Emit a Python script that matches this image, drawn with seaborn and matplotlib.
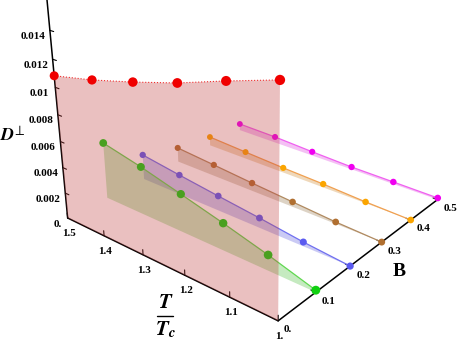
import matplotlib
matplotlib.use("Agg")
import matplotlib.pyplot as plt
import seaborn as sns
from matplotlib.lines import Line2D
from mpl_toolkits.mplot3d import proj3d
from mpl_toolkits.mplot3d.art3d import Poly3DCollection

T_vals = [1.5, 1.4, 1.3, 1.2, 1.1, 1.0]
D_00 = [0.01083, 0.01150, 0.01233, 0.01325, 0.01435, 0.01538]
D_01 = [0.00447, 0.00378, 0.00295, 0.00210, 0.00118, 0.00015]
D_02 = [0.00205, 0.00160, 0.00118, 0.00078, 0.00033, 0.00000]
D_03 = [0.00120, 0.00093, 0.00065, 0.00040, 0.00015, 0.00000]
D_04 = [0.00075, 0.00057, 0.00040, 0.00028, 0.00010, 0.00000]
D_05 = [0.00057, 0.00050, 0.00033, 0.00020, 0.00017, 0.00013]
series = [D_05, D_04, D_03, D_02, D_01, D_00]
series_B = [0.5, 0.4, 0.3, 0.2, 0.1, 0.0]

D_ticks = [0.002, 0.004, 0.006, 0.008, 0.01, 0.012, 0.014]
D_labels = ["0.002", "0.004", "0.006", "0.008", "0.01", "0.012", "0.014"]
T_ticks = [1.5, 1.4, 1.3, 1.2, 1.1, 1.0]
T_labels = ["1.5", "1.4", "1.3", "1.2", "1.1", "1."]
B_ticks = [0.1, 0.2, 0.3, 0.4, 0.5]
B_labels = ["0.1", "0.2", "0.3", "0.4", "0.5"]

W, H = 459, 341

sns.set_theme(style="white", font="Liberation Serif")
plt.rcParams["mathtext.fontset"] = "stix"
marker_cols = sns.color_palette(["#f000f0", "#fba500", "#b06f30", "#5a5af0", "#10d010", "#f00000"])
fill_cols = sns.color_palette(["#e040e0", "#d08a30", "#9a7a50", "#6060e0", "#50c040", "#c04040"])
line_cols = sns.color_palette(["#f060f0", "#f0a050", "#b08a60", "#7070f0", "#60d850", "#f03030"])

fig = plt.figure(figsize=(W / 100, H / 100), dpi=100)
ax = fig.add_subplot(projection="3d", computed_zorder=False)
ax.view_init(elev=23.745, azim=-50.4458, roll=0.2091)
ax.set_proj_type("persp", focal_length=0.4014)
ax.set_box_aspect((1.0061, 1, 0.8502))
side = 441.08
ax.set_position([(249.31 - side / 2) / W, (228.32 - side / 2) / H, side / W, side / H])
ax.set_xlim(1.5, 1.0, view_margin=0)
ax.set_ylim(0, 0.5, view_margin=0)
ax.set_zlim(0, 0.016, view_margin=0)
ax.set_axis_off()
ax.apply_aspect()
M = ax.get_proj()


def label(t, b, d, s, dx, dy):
    # 2d annotation at the projected spot, offset in pixels
    x, y, _ = proj3d.proj_transform(t, b, d, M)
    ax.annotate(s, xy=(x, y), xycoords="data", xytext=(dx, dy), textcoords="offset pixels",
                ha="center", va="center", fontsize=8, fontweight="bold", color="black",
                annotation_clip=False, zorder=40)


ax.plot([1.5, 1.0], [0, 0], [0, 0], color="black", lw=1.1, zorder=1)
ax.plot([1.0, 1.0], [0, 0.5], [0, 0], color="black", lw=1.1, zorder=1)
ax.plot([1.5, 1.5], [0, 0], [0, 0.0165], color="black", lw=1.1, zorder=1)

for d, lab in zip(D_ticks, D_labels):
    ax.plot([1.5, 1.49], [0, 0], [d, d], color="black", lw=0.8, zorder=1)
    label(1.5, 0, d, lab, -17 if len(lab) == 5 else -16, -6)
label(1.5, 0, 0, "0.", -10, -7)

for t, lab in zip(T_ticks, T_labels):
    ax.plot([t, t], [0, 0], [0, 0.0004], color="black", lw=0.8, zorder=1)
    label(t, 0, 0, lab, 1, -15.5)

for b, lab in zip(B_ticks, B_labels):
    ax.plot([1.0, 1.01], [b, b], [0, 0], color="black", lw=0.8, zorder=1)
    label(1.0, b, 0, lab, 13, -9)
label(1.0, 0, 0, "0.", 10, -9)

marker_base = [4.8, 4.8, 5.0, 5.2, 6.4, 7.4]
for i, (b, vals) in enumerate(zip(series_B, series)):
    flat = [b] * len(T_vals)
    verts = [(t, b, v) for t, v in zip(T_vals, vals)]
    verts += [(1.0, b, 0), (1.5, b, 0)]
    ax.add_collection3d(Poly3DCollection([verts], facecolor=fill_cols[i], edgecolor="none",
                                         alpha=0.33, zorder=2 + 2 * i))
    if b == 0.0:
        ax.plot(T_vals, flat, vals, color=line_cols[i], lw=0.8, ls=":", zorder=30)
        z_pts = 31
    else:
        ax.plot(T_vals, flat, vals, color=line_cols[i], lw=0.9, zorder=3 + 2 * i)
        z_pts = 3 + 2 * i
    # points shrink towards the far end of the T axis
    sizes = [(marker_base[i] * (1 - 0.5 * (t - 1.0) * 0.5)) ** 2 for t in T_vals]
    ax.scatter(T_vals, flat, vals, s=sizes, color=[marker_cols[i]], edgecolors="none",
               depthshade=False, alpha=1, zorder=z_pts)

fig.text(8 / W, 1 - 135 / H, r"$\mathbfit{D}$", fontsize=13, color="black", ha="center", va="center")
fig.text(18 / W, 1 - 131 / H, r"$\perp$", fontsize=10, color="black", ha="center", va="center")
fig.text(399 / W, 1 - 272 / H, "B", fontsize=14, fontweight="bold", color="black", ha="center", va="center")
fig.text(166 / W, 1 - 303 / H, r"$\mathbfit{T}$", fontsize=15, color="black", ha="center", va="center")
fig.text(165 / W, 1 - 330 / H, r"$\mathbfit{T}_{\mathbfit{c}}$", fontsize=15, color="black", ha="center", va="center")
fig.add_artist(Line2D([157 / W, 173 / W], [1 - 316 / H, 1 - 316 / H], color="black", lw=1.0))

fig.savefig("out.png", dpi=100)
